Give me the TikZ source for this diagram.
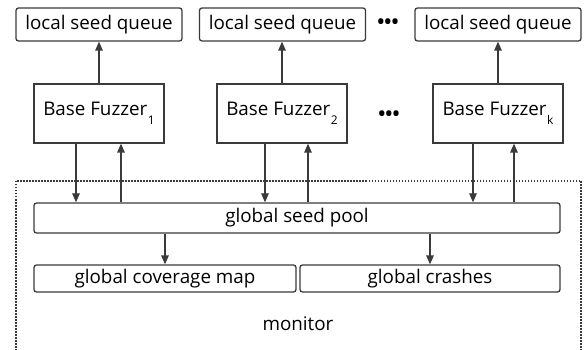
\documentclass[tikz,border=0pt]{standalone}
\usepackage{fontspec}
\setmainfont{Open Sans}
\usetikzlibrary{arrows.meta, positioning}
\definecolor{linegray}{HTML}{3A3A3A}

\tikzset{
    queuebox/.style={draw=linegray, line width=1.3pt, rounded corners=2.5pt, minimum width=166pt, minimum height=33pt, inner sep=0pt},
    fuzzbox/.style={draw=linegray, line width=1.3pt, minimum width=130pt, minimum height=59pt, inner sep=0pt},
    globalbox/.style={draw=linegray, line width=1.3pt, rounded corners=2.5pt, minimum height=28pt, inner sep=0pt},
    flow/.style={draw=linegray, line width=1.3pt, -{Triangle[length=9pt, width=7.5pt]}},
}
\newcommand{\fzsub}[1]{\kern0.5pt\raisebox{-9pt}{\fontsize{12}{12}\selectfont #1}}

\begin{document}
\begin{tikzpicture}[x=1pt, y=-1pt, font=\fontsize{18.8}{22}\selectfont, text=black]
    \useasboundingbox (0,0) rectangle (584,350);

    % Monitor frame
    \draw[linegray, line width=1.5pt, dash pattern=on 1.5pt off 1.5pt] (16,181) rectangle (581,360);
    \node (mon) at (298,324) {monitor};

    % Local seed queues
    \node[queuebox] (q1) at (99,24.5) {local seed queue};
    \node[queuebox] (q2) at (282.5,24.5) {local seed queue};
    \node[queuebox] (qk) at (498,24.5) {local seed queue};
    \node (qdots) at (388,24) {\textbf{\textbullet\textbullet\textbullet}};

    % Base fuzzers
    \node[fuzzbox] (f1) at (99,113.5) {Base Fuzzer\fzsub{1}};
    \node[fuzzbox] (f2) at (282,113.5) {Base Fuzzer\fzsub{2}};
    \node[fuzzbox] (fk) at (498,113.5) {Base Fuzzer\fzsub{k}};
    \node (fdots) at (389,116) {\textbf{\textbullet\textbullet\textbullet}};

    % Global structures
    \node[globalbox, minimum width=526pt, minimum height=30pt] (pool) at (297,218) {global seed pool};
    \node[globalbox, minimum width=262pt, minimum height=27pt] (cov) at (165,278.5) {global coverage map};
    \node[globalbox, minimum width=260pt, minimum height=27pt] (crash) at (430,278.5) {global crashes};

    % Fuzzer to queue
    \foreach \f/\q in {f1/q1, f2/q2, fk/qk} {
        \draw[flow] (\f.north) -- (\f.north |- \q.south);
    }

    % Fuzzer <-> pool
    \foreach \f/\dn/\up in {f1/-23/22, f2/-17/26, fk/-25/16} {
        \draw[flow] ([xshift=\dn pt]\f.south) -- ([xshift=\dn pt]\f.south |- pool.north);
        \draw[flow] ([xshift=\up pt]\f.south |- pool.north) -- ([xshift=\up pt]\f.south);
    }

    % Pool to maps
    \draw[flow] (pool.south -| cov.north) -- (cov.north);
    \draw[flow] (pool.south -| crash.north) -- (crash.north);
\end{tikzpicture}
\end{document}
